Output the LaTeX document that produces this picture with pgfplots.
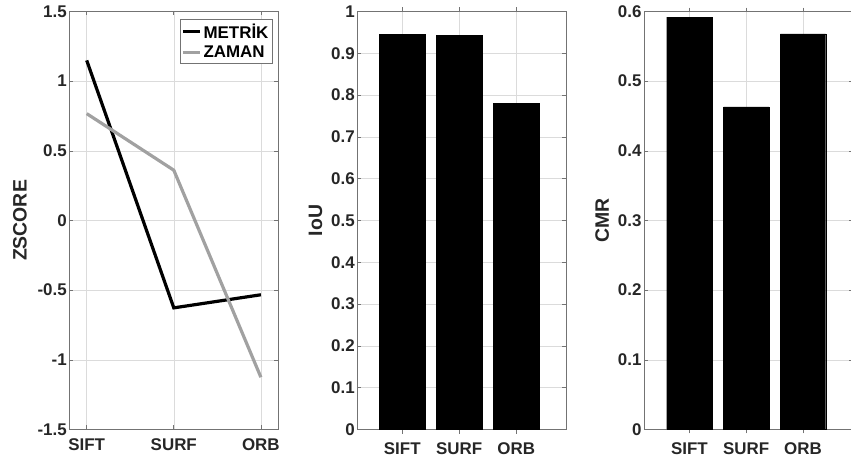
\documentclass[border=0pt]{standalone}
\usepackage{pgfplots}
\pgfplotsset{compat=1.18}
\usepackage{fontspec}
\setmainfont{Liberation Sans}
\definecolor{axgray}{gray}{0.45}
\definecolor{gridgray}{gray}{0.86}
\definecolor{zaman}{gray}{0.63}
\newcommand{\lblfont}{\bfseries\fontsize{17}{20}\selectfont}
\newcommand{\ylfont}{\bfseries\fontsize{19.5}{22}\selectfont}
\pgfplotsset{
  matlab/.style={
    scale only axis, width=209bp, height=418bp, anchor=south west,
    axis line style={axgray, line width=0.6bp},
    tick style={axgray, line width=0.6bp}, tick align=inside, major tick length=4bp,
    grid=major, major grid style={gridgray, line width=0.5bp},
    tick label style={font=\lblfont, text=black!85},
    xticklabel style={yshift=-6bp},
    yticklabel style={xshift=1bp},
    label style={font=\ylfont, text=black!85},
    /pgf/number format/assume math mode=true,
    /pgf/number format/fixed,
    xtick={1,2,3}, xticklabels={SIFT,SURF,ORB},
  },
}
\begin{document}
\begin{tikzpicture}
\useasboundingbox (0,0) rectangle (851bp,463bp);
% z-score lines
\begin{axis}[matlab, at={(69.3bp,33.5bp)},
  xmin=0.8, xmax=3.2, ymin=-1.5, ymax=1.5, ytick distance=0.5,
  ylabel={ZSCORE}, ylabel style={at={(axis description cs:-0.236,0.5)}, anchor=center},
  legend style={at={(rel axis cs:0.971,0.982)}, anchor=north east,
    draw=axgray, line width=0.6bp, font=\lblfont, inner xsep=1.5bp, inner ysep=2.5bp,
    row sep=2bp, cells={anchor=west}},
  legend image code/.code={\draw[#1, line width=3.2bp] (0bp,0bp) -- (17bp,0bp);}]
\addplot[black, line width=3.2bp] coordinates {(1,1.149) (2,-0.627) (3,-0.533)};
\addlegendentry{METRİK}
\addplot[zaman, line width=3.2bp] coordinates {(1,0.767) (2,0.361) (3,-1.125)};
\addlegendentry{ZAMAN}
\end{axis}
% IoU bars
\begin{axis}[matlab, at={(357.3bp,33.5bp)},
  xmin=0.21, xmax=3.88, ymin=0, ymax=1, ytick distance=0.1,
  ylabel={IoU}, ylabel style={at={(axis description cs:-0.2,0.5)}, anchor=center},
  ybar, bar width=0.8]
\addplot[fill=black, draw=black] coordinates {(1,0.945) (2,0.943) (3,0.780)};
\end{axis}
% CMR bars
\begin{axis}[matlab, at={(644bp,33.5bp)},
  xmin=0.2, xmax=3.88, ymin=0, ymax=0.6, ytick distance=0.1,
  ylabel={CMR}, ylabel style={at={(axis description cs:-0.2,0.5)}, anchor=center},
  ybar, bar width=0.8]
\addplot[fill=black, draw=black] coordinates {(1,0.592) (2,0.463) (3,0.568)};
\end{axis}
\end{tikzpicture}
\end{document}
